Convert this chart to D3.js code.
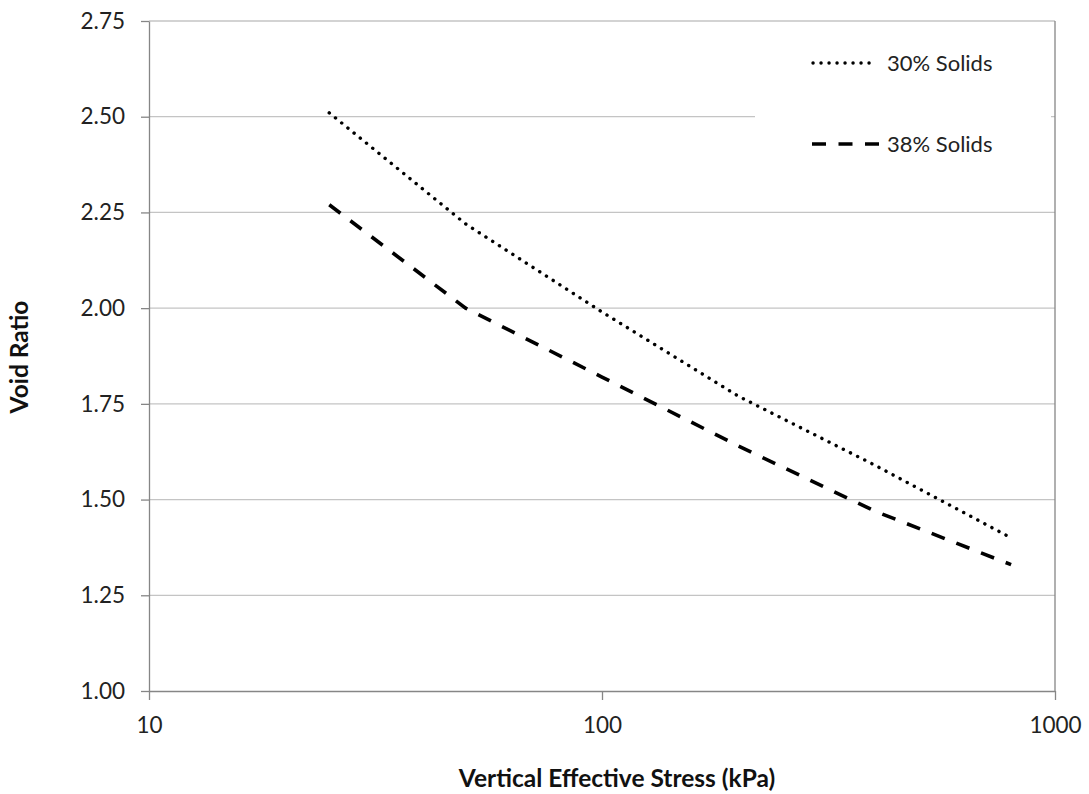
<!DOCTYPE html>
<html lang="en">
<head>
  <meta charset="UTF-8" />
  <title>Void Ratio vs Vertical Effective Stress</title>
  <script src="https://cdn.jsdelivr.net/npm/d3@7"></script>
  <style>
    body {
      margin: 0;
      background-color: white;
      font-family: Lato, "Open Sans", sans-serif;
    }

    .axis path,
    .axis line {
      stroke: #868686;
      stroke-width: 1.3px;
    }

    .axis text {
      font-family: Lato, "Open Sans", sans-serif;
      font-size: 22.5px;
      fill: #222;
    }

    .grid line {
      stroke: #c4c4c4;
      stroke-width: 1.3px;
    }

    .title {
      font-size: 24.5px;
      font-weight: bold;
      fill: #111;
    }

    .legend text {
      font-size: 22px;
      fill: #222;
    }
  </style>
</head>
<body>
  <div id="chart"></div>

  <script>
    // values
    const stress = [25, 50, 100, 200, 400, 800];
    const solids30 = [2.51, 2.22, 1.99, 1.77, 1.59, 1.40];
    const solids38 = [2.27, 2.00, 1.82, 1.64, 1.47, 1.33];
    const seriesNames = ["30% Solids", "38% Solids"];
    const xTicks = [10, 100, 1000];
    const yTicks = [1.00, 1.25, 1.50, 1.75, 2.00, 2.25, 2.50, 2.75];

    const width = 1089;
    const height = 794;
    const margin = { top: 21, right: 34, bottom: 103, left: 149 };
    const plotW = width - margin.left - margin.right;
    const plotH = height - margin.top - margin.bottom;

    const svg = d3.select("#chart")
      .append("svg")
      .attr("width", width)
      .attr("height", height);

    const g = svg.append("g")
      .attr("transform", `translate(${margin.left}, ${margin.top})`);

    const xScale = d3.scaleLog()
      .domain([10, 1000])
      .range([0, plotW]);

    const yScale = d3.scaleLinear()
      .domain([1, 2.75])
      .range([plotH, 0]);

    // horizontal gridlines
    g.append("g")
      .attr("class", "grid")
      .selectAll("line")
      .data(yTicks.filter(d => d > 1))
      .enter()
      .append("line")
      .attr("x1", 0)
      .attr("x2", plotW)
      .attr("y1", d => yScale(d))
      .attr("y2", d => yScale(d));

    // right border
    g.append("line")
      .attr("x1", plotW)
      .attr("x2", plotW)
      .attr("y1", 0)
      .attr("y2", plotH)
      .attr("stroke", "#868686")
      .attr("stroke-width", 1.3);

    const xAxis = d3.axisBottom(xScale)
      .tickValues(xTicks)
      .tickFormat(d3.format("d"))
      .tickSize(9)
      .tickSizeOuter(0)
      .tickPadding(17);

    const yAxis = d3.axisLeft(yScale)
      .tickValues(yTicks)
      .tickFormat(d3.format(".2f"))
      .tickSize(8)
      .tickSizeOuter(0)
      .tickPadding(16);

    g.append("g")
      .attr("class", "axis")
      .attr("transform", `translate(0, ${plotH})`)
      .call(xAxis);

    g.append("g")
      .attr("class", "axis")
      .call(yAxis);

    // legend box (covers the gridline behind it)
    const legend = svg.append("g").attr("class", "legend");

    legend.append("rect")
      .attr("x", 755)
      .attr("y", 32)
      .attr("width", 296)
      .attr("height", 150)
      .attr("fill", "white");

    const styles = [
      { dash: "0.1 7.9", cap: "round", w: 3.4 },
      { dash: "14 12.5", cap: "butt", w: 3.6 }
    ];

    const line = d3.line()
      .x(d => xScale(d[0]))
      .y(d => yScale(d[1]));

    [solids30, solids38].forEach((vals, i) => {
      g.append("path")
        .datum(stress.map((s, j) => [s, vals[j]]))
        .attr("fill", "none")
        .attr("stroke", "black")
        .attr("stroke-width", styles[i].w)
        .attr("stroke-linecap", styles[i].cap)
        .attr("stroke-dasharray", styles[i].dash)
        .attr("d", line);
    });

    const legendY = [63, 144];
    seriesNames.forEach((name, i) => {
      legend.append("line")
        .attr("x1", i === 0 ? 813 : 812)
        .attr("x2", i === 0 ? 877 : 879)
        .attr("y1", legendY[i])
        .attr("y2", legendY[i])
        .attr("stroke", "black")
        .attr("stroke-width", styles[i].w)
        .attr("stroke-linecap", styles[i].cap)
        .attr("stroke-dasharray", styles[i].dash);

      legend.append("text")
        .attr("x", 887)
        .attr("y", legendY[i])
        .attr("dy", "0.35em")
        .text(name);
    });

    // axis titles
    svg.append("text")
      .attr("class", "title")
      .attr("x", margin.left + plotW / 2 + 15)
      .attr("y", 787)
      .attr("text-anchor", "middle")
      .text("Vertical Effective Stress (kPa)");

    svg.append("text")
      .attr("class", "title")
      .attr("transform", `translate(28, ${margin.top + plotH / 2 + 1}) rotate(-90)`)
      .attr("text-anchor", "middle")
      .text("Void Ratio");
  </script>
</body>
</html>
